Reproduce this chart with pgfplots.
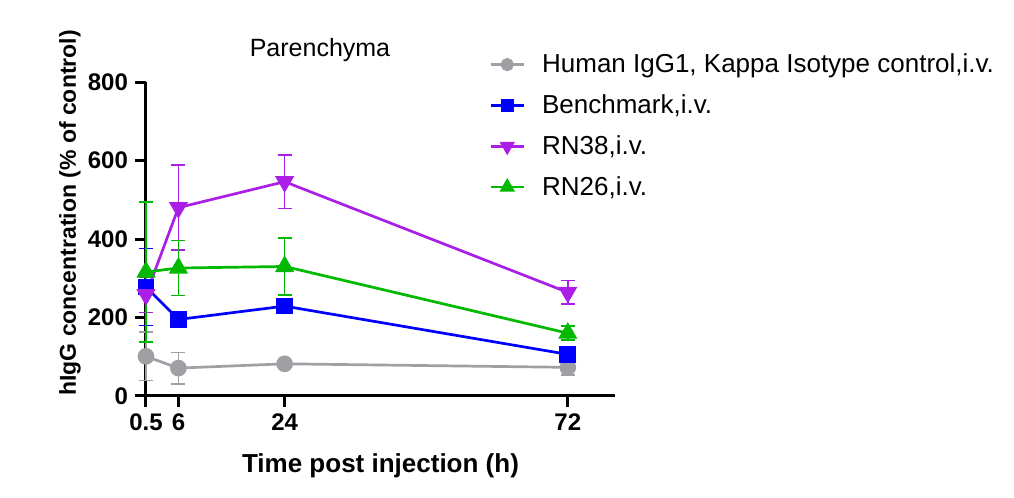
\documentclass[border=0pt]{standalone}
\usepackage{fontspec}
\setmainfont{Liberation Sans}
\usepackage{pgfplots}
\pgfplotsset{compat=1.18}
\definecolor{cgray}{RGB}{160,160,164}
\definecolor{cblue}{RGB}{0,0,255}
\definecolor{cpurple}{RGB}{170,30,230}
\definecolor{cgreen}{RGB}{0,185,0}
\begin{document}
\begin{tikzpicture}
\useasboundingbox (-73pt,-51pt) rectangle (434pt,198pt);
\begin{axis}[
  at={(0,0)}, anchor=south west,
  scale only axis, width=234.5pt, height=157pt,
  xmin=0.5, xmax=80, ymin=0, ymax=800,
  clip=false,
  axis lines*=left,
  axis line style={line width=1.5pt, black},
  xtick={0.5,6,24,72}, xticklabels={0.5,6,24,72},
  ytick={0,200,400,600,800},
  tick align=outside, major tick length=5.5pt,
  tick style={line width=1.5pt, black},
  /pgf/number format/assume math mode=true,
  ticklabel style={font=\bfseries\fontsize{12}{14}\selectfont},
  xlabel={Time post injection (h)},
  ylabel={hIgG concentration (\% of control)},
  xlabel style={font=\bfseries\fontsize{13}{15}\selectfont, at={(axis description cs:0.5,-0.223)}, anchor=center},
  ylabel style={font=\bfseries\fontsize{11.5}{14}\selectfont, at={(axis description cs:-0.162,0.583)}, anchor=center},
  title={Parenchyma},
  title style={font=\fontsize{12.5}{15}\selectfont, at={(axis description cs:0.371,1.064)}, anchor=center},
  legend style={draw=none, fill=none, at={(axis description cs:0.7186,1.117)}, anchor=north west,
    font=\fontsize{13}{15}\selectfont, row sep=5.5pt, legend cell align=left,
    /tikz/every odd column/.style={column sep=6.5pt}},
  legend image code/.code={\draw[mark repeat=2,mark phase=2, /tikz/every mark/.append style={scale=0.75}] plot coordinates {(0pt,0pt) (8.25pt,0pt) (16.5pt,0pt)};},
  every axis plot/.append style={line width=1.35pt},
  error bars/error bar style={line width=0.8pt},
  error bars/error mark options={rotate=90, mark size=3.5pt, line width=0.8pt},
]
\addplot[color=cgray, mark=*, mark size=3.5pt, mark options={solid},
  error bars/.cd, y dir=both, y explicit] table[x=x, y=y, y error=e] {
x y e
0.5 101 62
6 71 40
24 82 8
72 73 20
};
\addlegendentry{Human IgG1, Kappa Isotype control,i.v.}
\addplot[color=cblue, mark=square*, mark size=3.5pt,
  error bars/.cd, y dir=both, y explicit] table[x=x, y=y, y error=e] {
x y e
0.5 278 98
6 195 8
24 229 10
72 106 8
};
\addlegendentry{Benchmark,i.v.}
\addplot[color=cpurple, mark=triangle*, mark size=4.2pt, mark options={rotate=180},
  error bars/.cd, y dir=both, y explicit] table[x=x, y=y, y error=e] {
x y e
0.5 258 45
6 480 108
24 546 68
72 264 30
};
\addlegendentry{RN38,i.v.}
\addplot[color=cgreen, mark=triangle*, mark size=4.2pt,
  error bars/.cd, y dir=both, y explicit] table[x=x, y=y, y error=e] {
x y e
0.5 316 178
6 326 70
24 330 73
72 160 18
};
\addlegendentry{RN26,i.v.}
\end{axis}
\end{tikzpicture}
\end{document}
